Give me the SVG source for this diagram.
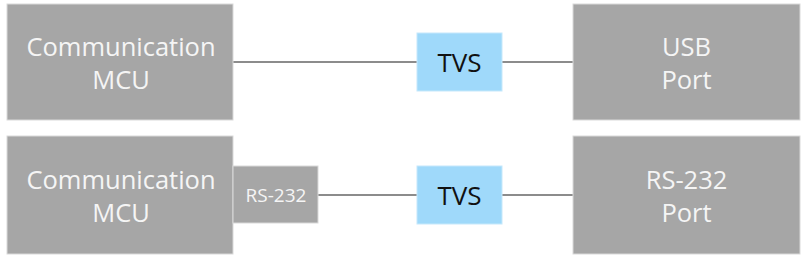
<svg xmlns="http://www.w3.org/2000/svg" width="808" height="260" viewBox="0 0 808 260">
<style>
.box{fill:#a6a6a6;stroke:#d9d9d9;stroke-width:1}
.tvs{fill:#9fd9fa;stroke:#c5e8fb;stroke-width:1}
.wt{font-family:"Open Sans","Noto Sans",sans-serif;fill:#f5f5f5;text-anchor:middle}
.bt{font-family:"Open Sans","Noto Sans",sans-serif;fill:#111;text-anchor:middle;font-size:26px}
.big{font-size:25.5px}
.small{font-size:19px}
.line{stroke:#8c8c8c;stroke-width:2;fill:none}
</style>
<g id="connectors">
<line class="line" x1="233" y1="62" x2="417" y2="62"/>
<line class="line" x1="502" y1="62" x2="573" y2="62"/>
<line class="line" x1="318" y1="195" x2="417" y2="195"/>
<line class="line" x1="502" y1="195" x2="573" y2="195"/>
</g>
<g id="mcu1">
<rect class="box" x="7" y="4" width="226" height="116"/>
<text class="wt big" x="121" y="56">Communication</text>
<text class="wt big" x="121" y="89">MCU</text>
</g>
<g id="tvs1">
<rect class="tvs" x="417" y="33" width="85" height="58"/>
<text class="bt" x="459.5" y="72">TVS</text>
</g>
<g id="usb">
<rect class="box" x="573" y="4" width="227" height="116"/>
<text class="wt big" x="686.5" y="56">USB</text>
<text class="wt big" x="686.5" y="89">Port</text>
</g>
<g id="mcu2">
<rect class="box" x="7" y="136" width="226" height="118"/>
<text class="wt big" x="121" y="189">Communication</text>
<text class="wt big" x="121" y="222">MCU</text>
</g>
<g id="rs232">
<rect class="box" x="233" y="166" width="85" height="57"/>
<text class="wt small" x="276" y="202">RS-232</text>
</g>
<g id="tvs2">
<rect class="tvs" x="417" y="166" width="85" height="58"/>
<text class="bt" x="459.5" y="205">TVS</text>
</g>
<g id="rsport">
<rect class="box" x="573" y="136" width="227" height="118"/>
<text class="wt big" x="686.5" y="189">RS-232</text>
<text class="wt big" x="686.5" y="222">Port</text>
</g>
</svg>
